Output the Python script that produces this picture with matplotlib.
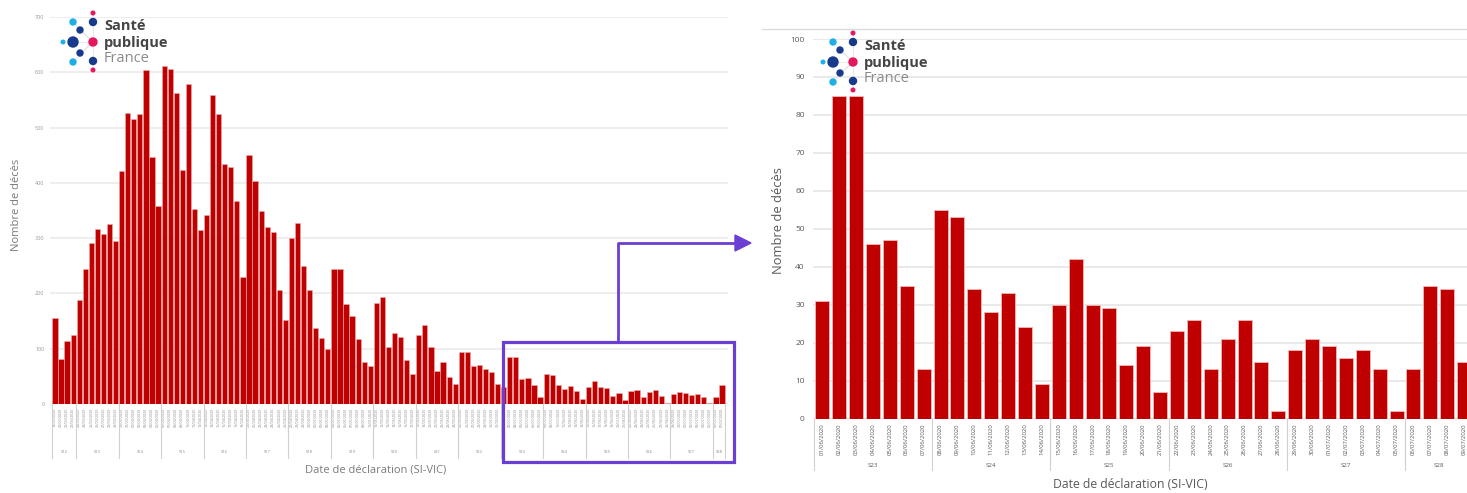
import pandas as pd
import matplotlib
matplotlib.use('Agg')
import matplotlib.pyplot as plt
from matplotlib.patches import Circle, Rectangle, Polygon

plt.rcParams['font.family'] = ['Open Sans', 'DejaVu Sans']

# deaths per declaration date (SI-VIC), 19/03/2020 -> 31/05/2020
deces_mars_mai = [155, 82, 114, 124, 189, 244, 292, 316, 307, 326,
                  294, 422, 526, 515, 524, 605, 447, 359, 612, 606,
                  562, 424, 579, 352, 314, 342, 559, 524, 435, 428,
                  367, 230, 450, 403, 350, 320, 312, 207, 152, 300,
                  328, 250, 207, 138, 119, 100, 244, 244, 180, 159,
                  118, 76, 69, 183, 193, 104, 128, 122, 79, 55,
                  125, 142, 104, 60, 76, 48, 37, 94, 94, 68,
                  70, 64, 58, 36]
# 01/06/2020 -> 09/07/2020 (zoomed panel)
deces_juin_juillet = [31, 85, 85, 46, 47, 35, 13, 55, 53, 34, 28, 33, 24, 9,
                      30, 42, 30, 29, 14, 19, 7, 23, 26, 13, 21, 26, 15, 2,
                      18, 21, 19, 16, 18, 13, 2, 13, 35, 34, 15]

dates_gauche = pd.date_range('2020-03-19', '2020-07-07')
dates_droite = pd.date_range('2020-06-01', '2020-07-09')
deces_gauche = deces_mars_mai + deces_juin_juillet[:37]

ROUGE = '#c00000'
VIOLET = '#6b3fd3'
GRIS = '#595959'

fig = plt.figure(figsize=(14.67, 4.93), dpi=100)
W, H = 1467, 493


def add_ax(x0, x1, y_top, y_bot):
    return fig.add_axes([x0 / W, (H - y_bot) / H, (x1 - x0) / W, (y_bot - y_top) / H])


def semaines(ax, dates, y_lab, y_sep, fs, col):
    weeks = list(dates.isocalendar().week.values)
    trans = ax.get_xaxis_transform()
    start = 0
    for i in range(1, len(weeks) + 1):
        if i == len(weeks) or weeks[i] != weeks[start]:
            ax.plot([start - 0.5, start - 0.5], [0, y_sep], color='#d0d0d0', lw=0.8,
                    transform=trans, clip_on=False)
            mid = (start + i - 1) / 2
            ax.text(mid, y_lab, 'S%d' % weeks[start], transform=trans, ha='center',
                    va='center', fontsize=fs, color=col, clip_on=False)
            start = i
    ax.plot([len(weeks) - 0.5] * 2, [0, y_sep], color='#d0d0d0', lw=0.8,
            transform=trans, clip_on=False)


# left panel : whole period
ax1 = add_ax(50, 728, 17, 404)
x1 = range(len(deces_gauche))
ax1.bar(x1, deces_gauche, width=0.86, color=ROUGE, edgecolor='#eab0b0', linewidth=0.4, zorder=2)
ax1.set_xlim(-0.82, 110.99)
ax1.set_ylim(0, 700)
ax1.set_yticks(range(0, 701, 100))
ax1.yaxis.grid(True, color='#eeeeee', lw=1.4, zorder=0)
ax1.set_xticks(list(x1))
ax1.set_xticklabels([d.strftime('%d/%m/%Y') for d in dates_gauche], rotation=90, fontsize=2.6, color='#8a8a8a')
ax1.tick_params(axis='x', length=0, pad=2.5)
ax1.tick_params(axis='y', length=0, pad=4, labelsize=4, labelcolor='#9a9a9a')
for s in ax1.spines.values():
    s.set_visible(False)
semaines(ax1, dates_gauche, -0.124, -0.14, 3, '#8a8a8a')
fig.text(17 / W, (H - 205) / H, 'Nombre de décès', rotation=90, ha='center', va='center',
         fontsize=8, color='#7a7a7a')
fig.text(376 / W, (H - 470) / H, 'Date de déclaration (SI-VIC)', ha='center', va='center',
         fontsize=8, color='#7a7a7a')

# right panel : zoom from 01/06
ax2 = add_ax(813, 1467, 39, 418.5)
x2 = range(len(deces_juin_juillet))
ax2.bar(x2, deces_juin_juillet, width=0.83, color=ROUGE, edgecolor='#f0b8b8', linewidth=0.6, zorder=2)
ax2.set_xlim(-0.55, 38.17)
ax2.set_ylim(0, 100)
ax2.set_yticks(range(0, 101, 10))
ax2.yaxis.grid(True, color='#e3e3e3', lw=1.1, zorder=0)
ax2.set_xticks(list(x2))
ax2.set_xticklabels([d.strftime('%d/%m/%Y') for d in dates_droite], rotation=90, fontsize=4.3, color=GRIS)
ax2.tick_params(axis='x', length=0, pad=3.5)
ax2.tick_params(axis='y', length=0, pad=6, labelsize=6, labelcolor=GRIS)
for s in ax2.spines.values():
    s.set_visible(False)
semaines(ax2, dates_droite, -0.125, -0.137, 4.5, GRIS)
fig.text(778 / W, (H - 221) / H, 'Nombre de décès', rotation=90, ha='center', va='center',
         fontsize=9.3, color=GRIS)
fig.text(1130 / W, (H - 485) / H, 'Date de déclaration (SI-VIC)', ha='center', va='center',
         fontsize=8.8, color=GRIS)

# overlay in pixel coordinates : zoom box, arrow, logos
ov = fig.add_axes([0, 0, 1, 1], zorder=5)
ov.set_xlim(0, W)
ov.set_ylim(H, 0)
ov.axis('off')

ov.add_patch(Rectangle((503, 342), 231, 120, fill=False, lw=2.3, edgecolor=VIOLET))
ov.plot([618, 618, 738], [342, 243, 243], color=VIOLET, lw=2)
ov.add_patch(Polygon([(735, 235), (751, 243), (735, 251)], closed=True, color=VIOLET))
ov.plot([762, W], [29, 29], color='#dcdcdc', lw=1)


def logo(cx, cy):
    bleu, ciel, rose = '#173a8c', '#1db0e6', '#e5185d'
    for dx, dy in [(-20, 0), (-13, -12), (-13, 11), (-20, -20), (-20, 20)]:
        ov.plot([cx + dx, cx], [cy + dy, cy], color='#e2e2e2', lw=0.5, zorder=1)
    ov.plot([cx, cx], [cy - 29, cy + 28], color='#e2e2e2', lw=0.5, zorder=1)
    dots = [(0, -29, 1.8, rose), (0, -20, 3.5, bleu), (-20, -20, 3, ciel),
            (-13, -12, 3, bleu), (-30, 0, 1.8, ciel), (-20, 0, 5, bleu),
            (0, 0, 4, rose), (-13, 11, 3, bleu), (-20, 20, 3, ciel),
            (0, 19, 3.5, bleu), (0, 28, 1.8, rose)]
    for dx, dy, r, c in dots:
        ov.add_patch(Circle((cx + dx, cy + dy), r, color=c, zorder=2))
    ov.text(cx + 11, cy - 16, 'Santé', fontsize=10.5, fontweight='bold', color='#454545', va='center')
    ov.text(cx + 11, cy + 0.5, 'publique', fontsize=10.5, fontweight='bold', color='#454545', va='center')
    ov.text(cx + 11, cy + 17, 'France', fontsize=10.5, color='#8a8a8a', va='center')


logo(93, 42)
logo(853, 62)

fig.savefig('out.png', dpi=100)
